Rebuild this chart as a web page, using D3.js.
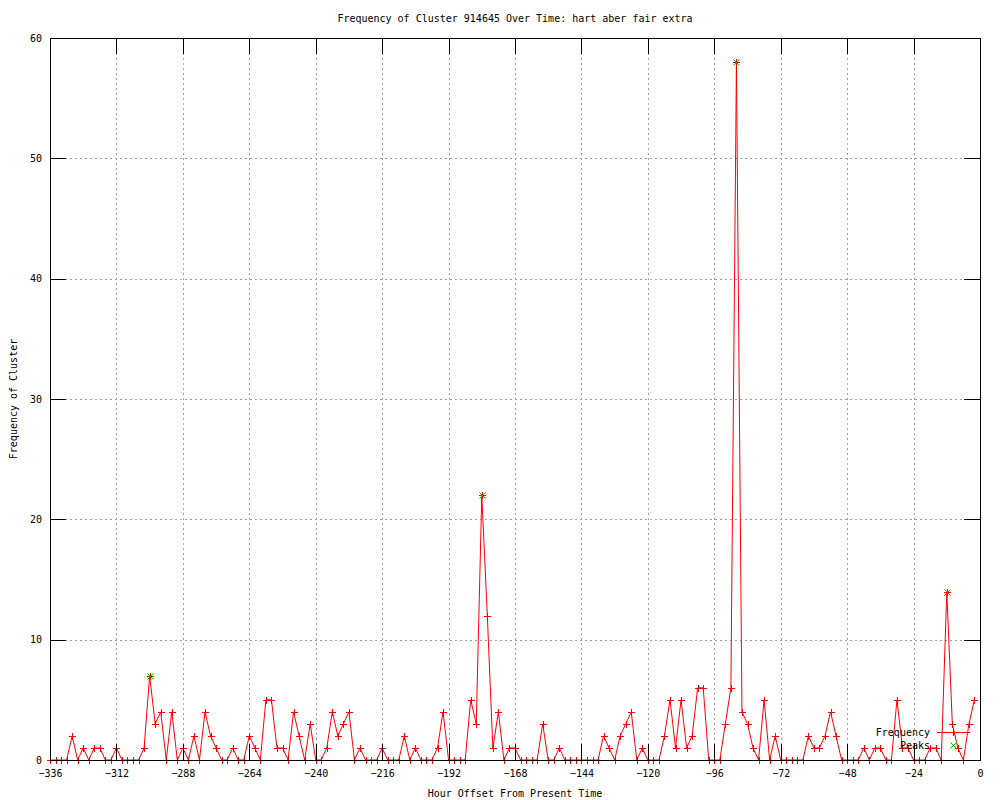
<!DOCTYPE html>
<html lang="en">
<head>
  <meta charset="UTF-8">
  <title>Frequency of Cluster</title>
  <script src="https://cdn.jsdelivr.net/npm/d3@7"></script>
  <style>
    body { margin: 0; background: #fff; }
    text { font-family: "DejaVu Sans Mono", "Liberation Mono", monospace; font-size: 10px; fill: #000; }
  </style>
</head>
<body>
  <div id="chart"></div>

  <script>
    // hour offsets of the samples
    const hours = [
      -336, -334, -332, -330, -328, -326, -324, -322, -320, -318, -316, -314,
      -312, -310, -308, -306, -304, -302, -300, -298, -296, -294, -292, -290,
      -288, -286, -284, -282, -280, -278, -276, -274, -272, -270, -268, -266,
      -264, -262, -260, -258, -256, -254, -252, -250, -248, -246, -244, -242,
      -240, -238, -236, -234, -232, -230, -228, -226, -224, -222, -220, -218,
      -216, -214, -212, -210, -208, -206, -204, -202, -200, -198, -196, -194,
      -192, -190, -188, -186, -184, -182, -180, -178, -176, -174, -172, -170,
      -168, -166, -164, -162, -160, -158, -156, -154, -152, -150, -148, -146,
      -144, -142, -140, -138, -136, -134, -132, -130, -128, -126, -124, -122,
      -120, -118, -116, -114, -112, -110, -108, -106, -104, -102, -100, -98,
      -96, -94, -92, -90, -88, -86, -84, -82, -80, -78, -76, -74,
      -72, -70, -68, -66, -64, -62, -60, -58, -56, -54, -52, -50,
      -48, -46, -44, -42, -40, -38, -36, -34, -32, -30, -28, -26,
      -24, -22, -20, -18, -16, -14, -12, -10, -8, -6, -4, -2
    ];
    const frequency = [
      0, 0, 0, 0, 2, 0, 1, 0, 1, 1, 0, 0,
      1, 0, 0, 0, 0, 1, 7, 3, 4, 0, 4, 0,
      1, 0, 2, 0, 4, 2, 1, 0, 0, 1, 0, 0,
      2, 1, 0, 5, 5, 1, 1, 0, 4, 2, 0, 3,
      0, 0, 1, 4, 2, 3, 4, 0, 1, 0, 0, 0,
      1, 0, 0, 0, 2, 0, 1, 0, 0, 0, 1, 4,
      0, 0, 0, 0, 5, 3, 22, 12, 1, 4, 0, 1,
      1, 0, 0, 0, 0, 3, 0, 0, 1, 0, 0, 0,
      0, 0, 0, 0, 2, 1, 0, 2, 3, 4, 0, 1,
      0, 0, 0, 2, 5, 1, 5, 1, 2, 6, 6, 0,
      0, 0, 3, 6, 58, 4, 3, 1, 0, 5, 0, 2,
      0, 0, 0, 0, 0, 2, 1, 1, 2, 4, 2, 0,
      0, 0, 0, 1, 0, 1, 1, 0, 0, 5, 1, 1,
      0, 0, 0, 1, 1, 0, 14, 3, 1, 0, 3, 5
    ];
    const peakHours = [-300, -180, -88, -12];
    const peakValues = [7, 22, 58, 14];

    const xTicks = [-336, -312, -288, -264, -240, -216, -192, -168, -144, -120, -96, -72, -48, -24, 0];
    const yTicks = [0, 10, 20, 30, 40, 50, 60];

    const width = 1000,
      height = 800;
    const plotL = 50, plotR = 980, plotT = 38, plotB = 760;
    const tickLen = 16;

    const svg = d3.select('#chart')
      .append('svg')
        .attr('width', width)
        .attr('height', height)
        .style('display', 'block');

    const x = d3.scaleLinear().domain([-336, 0]).range([plotL, plotR]);
    const y = d3.scaleLinear().domain([0, 60]).range([plotB, plotT]);

    // grid
    const grid = svg.append('g')
      .attr('stroke', '#a0a0a0')
      .attr('stroke-dasharray', '2,3')
      .attr('shape-rendering', 'crispEdges');
    grid.selectAll('.gx')
      .data(xTicks.slice(1, -1))
      .join('line')
        .attr('x1', d => Math.round(x(d)) + 0.5)
        .attr('x2', d => Math.round(x(d)) + 0.5)
        .attr('y1', plotT)
        .attr('y2', plotB);
    grid.selectAll('.gy')
      .data(yTicks.slice(1, -1))
      .join('line')
        .attr('x1', plotL)
        .attr('x2', plotR)
        .attr('y1', d => Math.round(y(d)) + 0.5)
        .attr('y2', d => Math.round(y(d)) + 0.5);

    // series
    const points = hours.map((h, i) => [h, frequency[i]]);
    const line = d3.line()
      .x(d => x(d[0]))
      .y(d => y(d[1]));

    svg.append('path')
      .datum(points)
      .attr('d', line)
      .attr('fill', 'none')
      .attr('stroke', '#ff0000')
      .attr('stroke-width', 1);

    const plus = 'M-3.5,0H3.5M0,-3.5V3.5';
    const cross = 'M-3,-3L3,3M-3,3L3,-3';

    svg.append('g')
      .selectAll('path')
      .data(points)
      .join('path')
        .attr('transform', d => `translate(${Math.round(x(d[0])) + 0.5},${Math.round(y(d[1])) + 0.5})`)
        .attr('d', plus)
        .attr('stroke', '#ff0000')
        .attr('fill', 'none')
        .attr('shape-rendering', 'crispEdges');

    svg.append('g')
      .selectAll('path')
      .data(peakHours.map((h, i) => [h, peakValues[i]]))
      .join('path')
        .attr('transform', d => `translate(${Math.round(x(d[0])) + 0.5},${Math.round(y(d[1])) + 0.5})`)
        .attr('d', cross)
        .attr('stroke', '#00c000')
        .attr('fill', 'none');

    // axes (ticks pointing inward, mirrored)
    const xAxis = svg.append('g')
      .attr('transform', `translate(0,${plotB})`)
      .call(d3.axisBottom(x).tickValues(xTicks).tickSize(-tickLen).tickPadding(8).tickSizeOuter(0));
    svg.append('g')
      .attr('transform', `translate(0,${plotT})`)
      .call(d3.axisTop(x).tickValues(xTicks).tickSize(-tickLen).tickFormat('').tickSizeOuter(0));
    const yAxis = svg.append('g')
      .attr('transform', `translate(${plotL},0)`)
      .call(d3.axisLeft(y).tickValues(yTicks).tickSize(-tickLen).tickPadding(8).tickSizeOuter(0));
    svg.append('g')
      .attr('transform', `translate(${plotR},0)`)
      .call(d3.axisRight(y).tickValues(yTicks).tickSize(-tickLen).tickFormat('').tickSizeOuter(0));

    svg.selectAll('.domain, .tick line')
      .attr('stroke', '#000')
      .attr('shape-rendering', 'crispEdges');
    svg.selectAll('.tick text')
      .attr('font-family', null)
      .attr('font-size', null)
      .style('fill', '#000');
    xAxis.selectAll('.tick text').attr('dy', '0.9em');

    // border
    svg.append('rect')
      .attr('x', plotL + 0.5)
      .attr('y', plotT + 0.5)
      .attr('width', plotR - plotL)
      .attr('height', plotB - plotT)
      .attr('fill', 'none')
      .attr('stroke', '#000')
      .attr('shape-rendering', 'crispEdges');

    // titles
    svg.append('text')
      .attr('x', (plotL + plotR) / 2)
      .attr('y', 22)
      .attr('text-anchor', 'middle')
      .text('Frequency of Cluster 914645 Over Time: hart aber fair extra');

    svg.append('text')
      .attr('x', (plotL + plotR) / 2)
      .attr('y', 797)
      .attr('text-anchor', 'middle')
      .text('Hour Offset From Present Time');

    svg.append('text')
      .attr('transform', `translate(17,${(plotT + plotB) / 2}) rotate(-90)`)
      .attr('text-anchor', 'middle')
      .text('Frequency of Cluster');

    // key
    const key = svg.append('g');
    key.append('text')
      .attr('x', 930)
      .attr('y', 736)
      .attr('text-anchor', 'end')
      .text('Frequency');
    key.append('line')
      .attr('x1', 937).attr('x2', 970)
      .attr('y1', 732.5).attr('y2', 732.5)
      .attr('stroke', '#ff0000')
      .attr('shape-rendering', 'crispEdges');
    key.append('path')
      .attr('transform', 'translate(953.5,732.5)')
      .attr('d', plus)
      .attr('stroke', '#ff0000')
      .attr('shape-rendering', 'crispEdges');
    key.append('text')
      .attr('x', 930)
      .attr('y', 749)
      .attr('text-anchor', 'end')
      .text('Peaks');
    key.append('path')
      .attr('transform', 'translate(953.5,745.5)')
      .attr('d', cross)
      .attr('stroke', '#00c000');
  </script>
</body>
</html>
